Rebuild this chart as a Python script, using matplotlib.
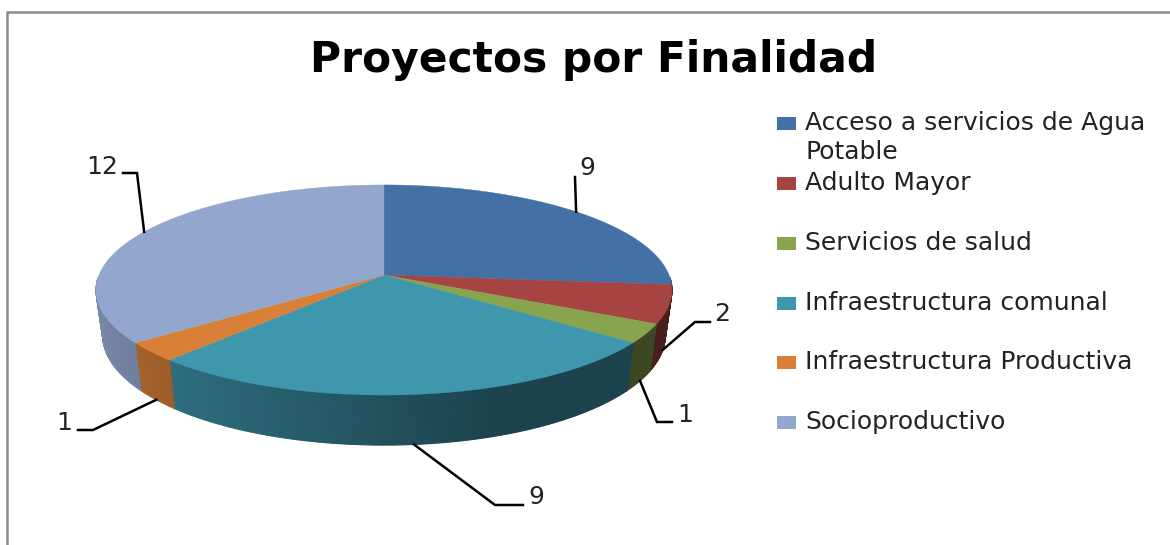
import numpy as np
import matplotlib
matplotlib.use('Agg')
import matplotlib.pyplot as plt
from matplotlib.collections import PolyCollection
from matplotlib.colors import to_rgb
from matplotlib.patches import Rectangle

# datos del grafico
names = ['Acceso a servicios de Agua\nPotable', 'Adulto Mayor', 'Servicios de salud',
         'Infraestructura comunal', 'Infraestructura Productiva', 'Socioproductivo']
values = [9, 2, 1, 9, 1, 12]
colors = ['#4371a6', '#a54442', '#88a44d', '#3f97ae', '#d88038', '#93a6cd']

# posiciones en pixeles de la imagen
legend_y = [123, 183, 243, 303, 362, 422]
label_pos = [(587, 168), (722, 314), (685, 415), (536, 497), (64, 423), (102, 167)]
elbows = [[(575, 177)],
          [(695, 322), (710, 322)],
          [(657, 422), (672, 422)],
          [(495, 505), (523, 505)],
          [(93, 430), (78, 430)],
          [(137, 173), (123, 173)]]

cx, cy = 384, 275
rx, ry = 285, 102.9
persp = 1 / 7
depth = 50

plt.rcParams['font.family'] = ['DejaVu Sans']

fig = plt.figure(figsize=(11.7, 5.45), dpi=100)
ax = fig.add_axes([0, 0, 1, 1])
ax.set_xlim(0, 1170)
ax.set_ylim(545, 0)
ax.axis('off')


def project(deg):
    # circulo -> elipse con perspectiva
    t = np.radians(deg)
    u, v = np.cos(t), np.sin(t)
    w = 1 + persp * v
    return cx + rx * u / w, cy - ry * v / w


def project_bottom(deg):
    # borde inferior, un poco mas angosto por la perspectiva
    x, y = project(deg)
    v = np.sin(np.radians(deg))
    return cx + (x - cx) * 0.977, y + depth * (0.88 - 0.12 * v)


def shade(deg):
    u = np.cos(np.radians(deg))
    return np.clip(0.82 - (u + 1) * 0.37 / 1.3, 0.44, 0.82)


edges = 90 - np.cumsum([0] + values) / sum(values) * 360

# pared lateral
polys, facecols = [], []
for i in range(len(values)):
    a = np.arange(edges[i], edges[i + 1] - 0.5, -0.5)
    a = np.append(a, edges[i + 1])
    for a0, a1 in zip(a[:-1], a[1:]):
        if np.sin(np.radians((a0 + a1) / 2)) > -0.03:
            continue
        polys.append([project(a0), project(a1), project_bottom(a1), project_bottom(a0)])
        facecols.append(np.array(to_rgb(colors[i])) * shade((a0 + a1) / 2))
ax.add_collection(PolyCollection(polys, facecolors=facecols, edgecolors=facecols, linewidths=0.8))

# cara superior
for i in range(len(values)):
    a = np.linspace(edges[i], edges[i + 1], 200)
    x, y = project(a)
    ax.fill(np.r_[cx, x], np.r_[cy, y], color=colors[i], lw=0.3)

# etiquetas con lineas guia
for i, val in enumerate(values):
    mid = (edges[i] + edges[i + 1]) / 2
    if np.sin(np.radians(mid)) < 0:
        x, y = project_bottom(mid)
    else:
        x, y = project(mid)
    pts = [(x, y)] + elbows[i]
    ax.plot([p[0] for p in pts], [p[1] for p in pts], color='black', lw=1.8, solid_joinstyle='miter')
    ax.text(label_pos[i][0], label_pos[i][1], str(val), fontsize=18, color='#222222', ha='center', va='center')

# leyenda
for name, col, ly in zip(names, colors, legend_y):
    ax.add_patch(Rectangle((777, ly - 6), 19, 13, color=col, lw=0))
    ax.text(805, ly - 12, name, fontsize=18, color='#222222', va='top', linespacing=1.27)

ax.text(594, 60, 'Proyectos por Finalidad', fontsize=30.5, fontweight='bold', color='black', ha='center', va='center')

# marco
ax.plot([6.5, 6.5, 1170], [545, 11.5, 11.5], color='#8c8c8c', lw=1.8, solid_joinstyle='miter')

fig.savefig('out.png', dpi=100)
